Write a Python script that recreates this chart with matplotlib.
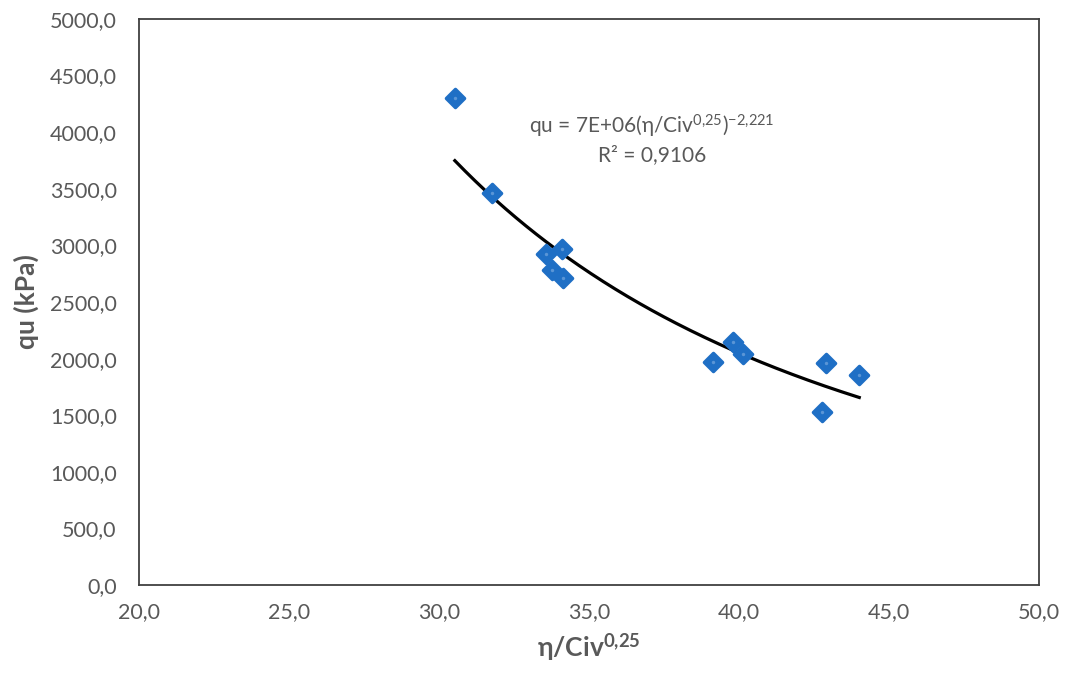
import numpy as np
import matplotlib.pyplot as plt

plt.rcParams['font.family'] = ['Lato', 'DejaVu Sans']
plt.rcParams['mathtext.fontset'] = 'custom'
plt.rcParams['mathtext.rm'] = 'Lato'
plt.rcParams['mathtext.it'] = 'Lato:italic'
plt.rcParams['mathtext.bf'] = 'Lato:bold'

# eta / Civ^0.25 against unconfined strength qu (kPa)
eta_civ = [30.53, 31.76, 33.56, 34.09, 33.78, 34.14, 39.14, 39.79, 40.12, 42.90, 42.78, 44.01]
qu = [4300, 3460, 2921, 2966, 2783, 2715, 1973, 2144, 2041, 1958, 1526, 1855]

x_ticks = [20, 25, 30, 35, 40, 45, 50]
y_ticks = [0, 500, 1000, 1500, 2000, 2500, 3000, 3500, 4000, 4500, 5000]

gray = '#595959'
blue = '#1f6fc5'

x = np.array(eta_civ)
y = np.array(qu)

# power trendline qu = a * x^b, fitted in log space
b, log_a = np.polyfit(np.log(x), np.log(y), 1)
a = np.exp(log_a)
xf = np.linspace(x.min(), x.max(), 200)
yf = a * xf ** b

fig = plt.figure(figsize=(10.68, 6.75), dpi=100)
ax = fig.add_axes([0.1301, 0.1333, 0.8427, 0.8386])

ax.plot(xf, yf, color='black', lw=2.3, zorder=2)
ax.scatter(x, y, marker='D', s=85, color=blue, edgecolor=blue, linewidth=2.5,
           joinstyle='round', zorder=3)
# lighter centre of each marker
ax.scatter(x, y, marker='o', s=6, color='#5a95d6', linewidth=0, zorder=4)

ax.set_xlim(20, 50)
ax.set_ylim(0, 5000)
ax.set_xticks(x_ticks)
ax.set_yticks(y_ticks)
ax.set_xticklabels([f'{v:.1f}'.replace('.', ',') for v in x_ticks])
ax.set_yticklabels([f'{v:.1f}'.replace('.', ',') for v in y_ticks])
ax.tick_params(axis='both', length=0, labelsize=15.5, labelcolor=gray)
ax.tick_params(axis='y', pad=16)
ax.tick_params(axis='x', pad=12)

for side in ax.spines.values():
    side.set_color('#404040')
    side.set_linewidth(1.3)

ax.set_xlabel(r'η/Civ$^{\mathbf{0{,}25}}$', fontsize=19, fontweight='bold', color=gray, labelpad=7)
ax.set_ylabel('qu (kPa)', fontsize=19, fontweight='bold', color=gray, labelpad=8)

# trendline equation, placed in figure coordinates
fig.text(652 / 1068, 1 - 126 / 675, r'qu = 7E+06(η/Civ$^{0{,}25}$)$^{-2{,}221}$',
         fontsize=15, color=gray, ha='center', va='center')
fig.text(652 / 1068, 1 - 155 / 675, 'R² = 0,9106',
         fontsize=15, color=gray, ha='center', va='center')

fig.savefig('out.png', dpi=100)
